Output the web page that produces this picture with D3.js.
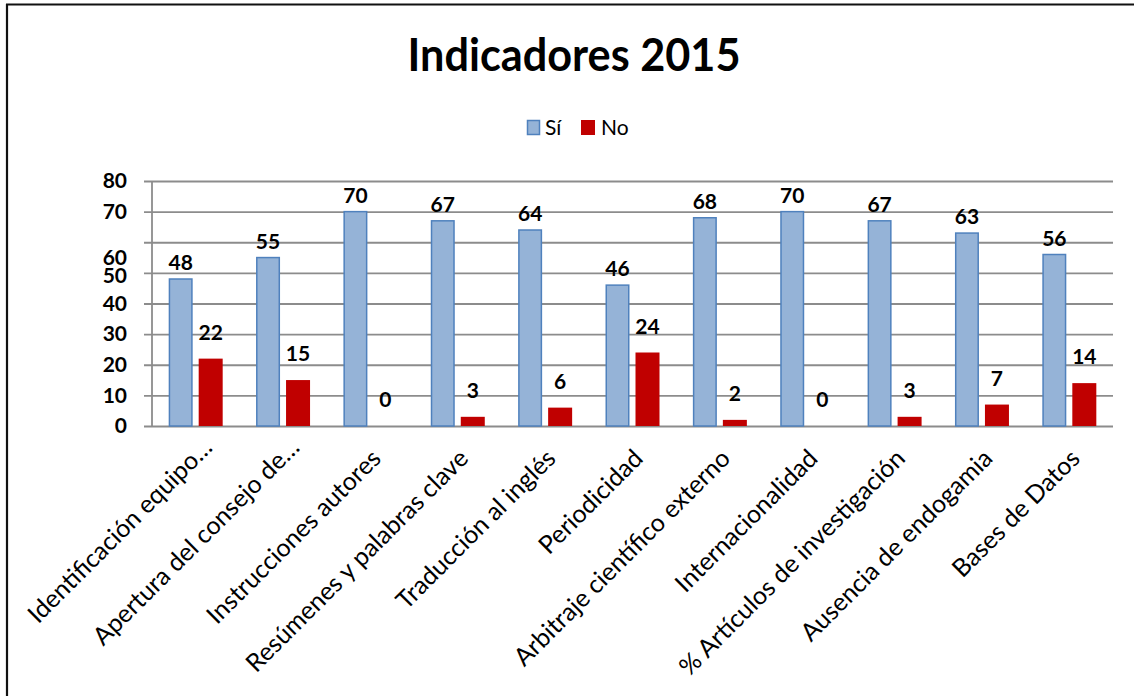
<!DOCTYPE html>
<html>
<head>
<meta charset="utf-8">
<script src="https://cdn.jsdelivr.net/npm/d3@7"></script>
<style>
  body { margin: 0; background: #fff; }
  svg { display: block; font-family: Lato, "Open Sans", sans-serif; }
  .grid line { stroke: #8c8c8c; stroke-width: 1.8; }
  .grid .domain { display: none; }
  .yaxis text { font-weight: bold; font-size: 21px; fill: #000; font-family: Lato, sans-serif; }
  .cat { font-size: 25px; fill: #000; }
  .value { font-weight: bold; font-size: 21px; fill: #000; text-anchor: middle; }
</style>
</head>
<body>
<svg width="1134" height="696"></svg>
<script>
// datos
const categories = [
  "Identificación equipo…",
  "Apertura del consejo de…",
  "Instrucciones autores",
  "Resúmenes y palabras clave",
  "Traducción al inglés",
  "Periodicidad",
  "Arbitraje científico externo",
  "Internacionalidad",
  "% Artículos de investigación",
  "Ausencia de endogamia",
  "Bases de Datos"
];
const seriesNames = ["Sí", "No"];
const si = [48, 55, 70, 67, 64, 46, 68, 70, 67, 63, 56];
const no = [22, 15, 0, 3, 6, 24, 2, 0, 3, 7, 14];
const yTicks = [0, 10, 20, 30, 40, 50, 60, 70, 80];

const colors = { "Sí": "#95b3d7", "No": "#c00000" };

const svg = d3.select("svg");

// marco
svg.append("line").attr("x1", 6).attr("x2", 1134).attr("y1", 4.5).attr("y2", 4.5)
  .attr("stroke", "#111").attr("stroke-width", 2.2);
svg.append("line").attr("x1", 7).attr("x2", 7).attr("y1", 4).attr("y2", 696)
  .attr("stroke", "#111").attr("stroke-width", 2.2);

// titulo
svg.append("text")
  .attr("x", 574).attr("y", 71)
  .attr("text-anchor", "middle")
  .attr("font-weight", "bold")
  .attr("font-size", 45)
  .attr("textLength", 333)
  .attr("lengthAdjust", "spacingAndGlyphs")
  .text("Indicadores 2015");

// leyenda
const legend = svg.append("g");
legend.append("rect").attr("x", 527.5).attr("y", 120.5).attr("width", 12).attr("height", 14)
  .attr("fill", colors["Sí"]).attr("stroke", "#4f81bd").attr("stroke-width", 1.5);
legend.append("text").attr("x", 545).attr("y", 135).attr("font-size", 21).text("Sí");
legend.append("rect").attr("x", 581).attr("y", 120).attr("width", 14).attr("height", 15)
  .attr("fill", colors["No"]);
legend.append("text").attr("x", 601).attr("y", 135).attr("font-size", 21).text("No");

const plotLeft = 152, plotRight = 1113, plotTop = 181, plotBottom = 426;

const x = d3.scaleBand().domain(categories).range([plotLeft, plotRight]);
const xSub = d3.scaleBand().domain(seriesNames).range([0, 54]).paddingInner(0.2);
const y = d3.scaleLinear().domain([0, 80]).range([plotBottom, plotTop]);

// lineas de division
svg.append("g").attr("class", "grid")
  .attr("transform", `translate(${plotRight},0)`)
  .call(d3.axisLeft(y).tickValues(yTicks).tickSize(plotRight - 144).tickFormat(""));

// eje vertical
svg.append("line").attr("x1", plotLeft).attr("x2", plotLeft).attr("y1", plotTop).attr("y2", plotBottom)
  .attr("stroke", "#8c8c8c").attr("stroke-width", 1.8);

const yAxis = svg.append("g").attr("class", "yaxis")
  .attr("transform", `translate(${plotLeft},0)`)
  .call(d3.axisLeft(y).tickValues(yTicks).tickSize(0).tickPadding(25));
yAxis.select(".domain").remove();
// en el original la etiqueta 60 aparece desplazada hacia abajo
yAxis.selectAll(".tick text").attr("dy", d => d === 60 ? "1.05em" : (d === 50 ? "0.45em" : "0.32em"));

const rows = categories.map((c, i) => ({ cat: c, vals: [si[i], no[i]] }));

const group = svg.append("g").selectAll("g").data(rows).join("g")
  .attr("transform", d => `translate(${x(d.cat) + x.bandwidth() / 2 - 27},0)`);

group.selectAll("rect")
  .data(d => seriesNames.map((s, k) => ({ s, v: d.vals[k] })))
  .join("rect")
  .attr("x", d => xSub(d.s) + (d.s === "Sí" ? 0.75 : 0))
  .attr("width", d => xSub.bandwidth() - (d.s === "Sí" ? 1.5 : 0))
  .attr("y", d => y(d.v))
  .attr("height", d => y(0) - y(d.v))
  .attr("fill", d => colors[d.s])
  .attr("stroke", d => d.s === "Sí" ? "#4f81bd" : "none")
  .attr("stroke-width", 1.5);

group.selectAll("text")
  .data(d => seriesNames.map((s, k) => ({ s, v: d.vals[k] })))
  .join("text")
  .attr("class", "value")
  .attr("x", d => xSub(d.s) + xSub.bandwidth() / 2)
  .attr("y", d => y(d.v) - (d.s === "Sí" ? 9 : 19))
  .text(d => d.v);

// etiquetas de categoria giradas (las recortadas con … quedan algo mas arriba)
svg.append("g").selectAll("text").data(categories).join("text")
  .attr("class", "cat")
  .attr("text-anchor", "end")
  .attr("transform", d => {
    const cut = d.endsWith("…");
    return `translate(${x(d) + x.bandwidth() / 2 + (cut ? 18 : 12)},${cut ? 449 : 460}) rotate(-45)`;
  })
  .text(d => d);
</script>
</body>
</html>
